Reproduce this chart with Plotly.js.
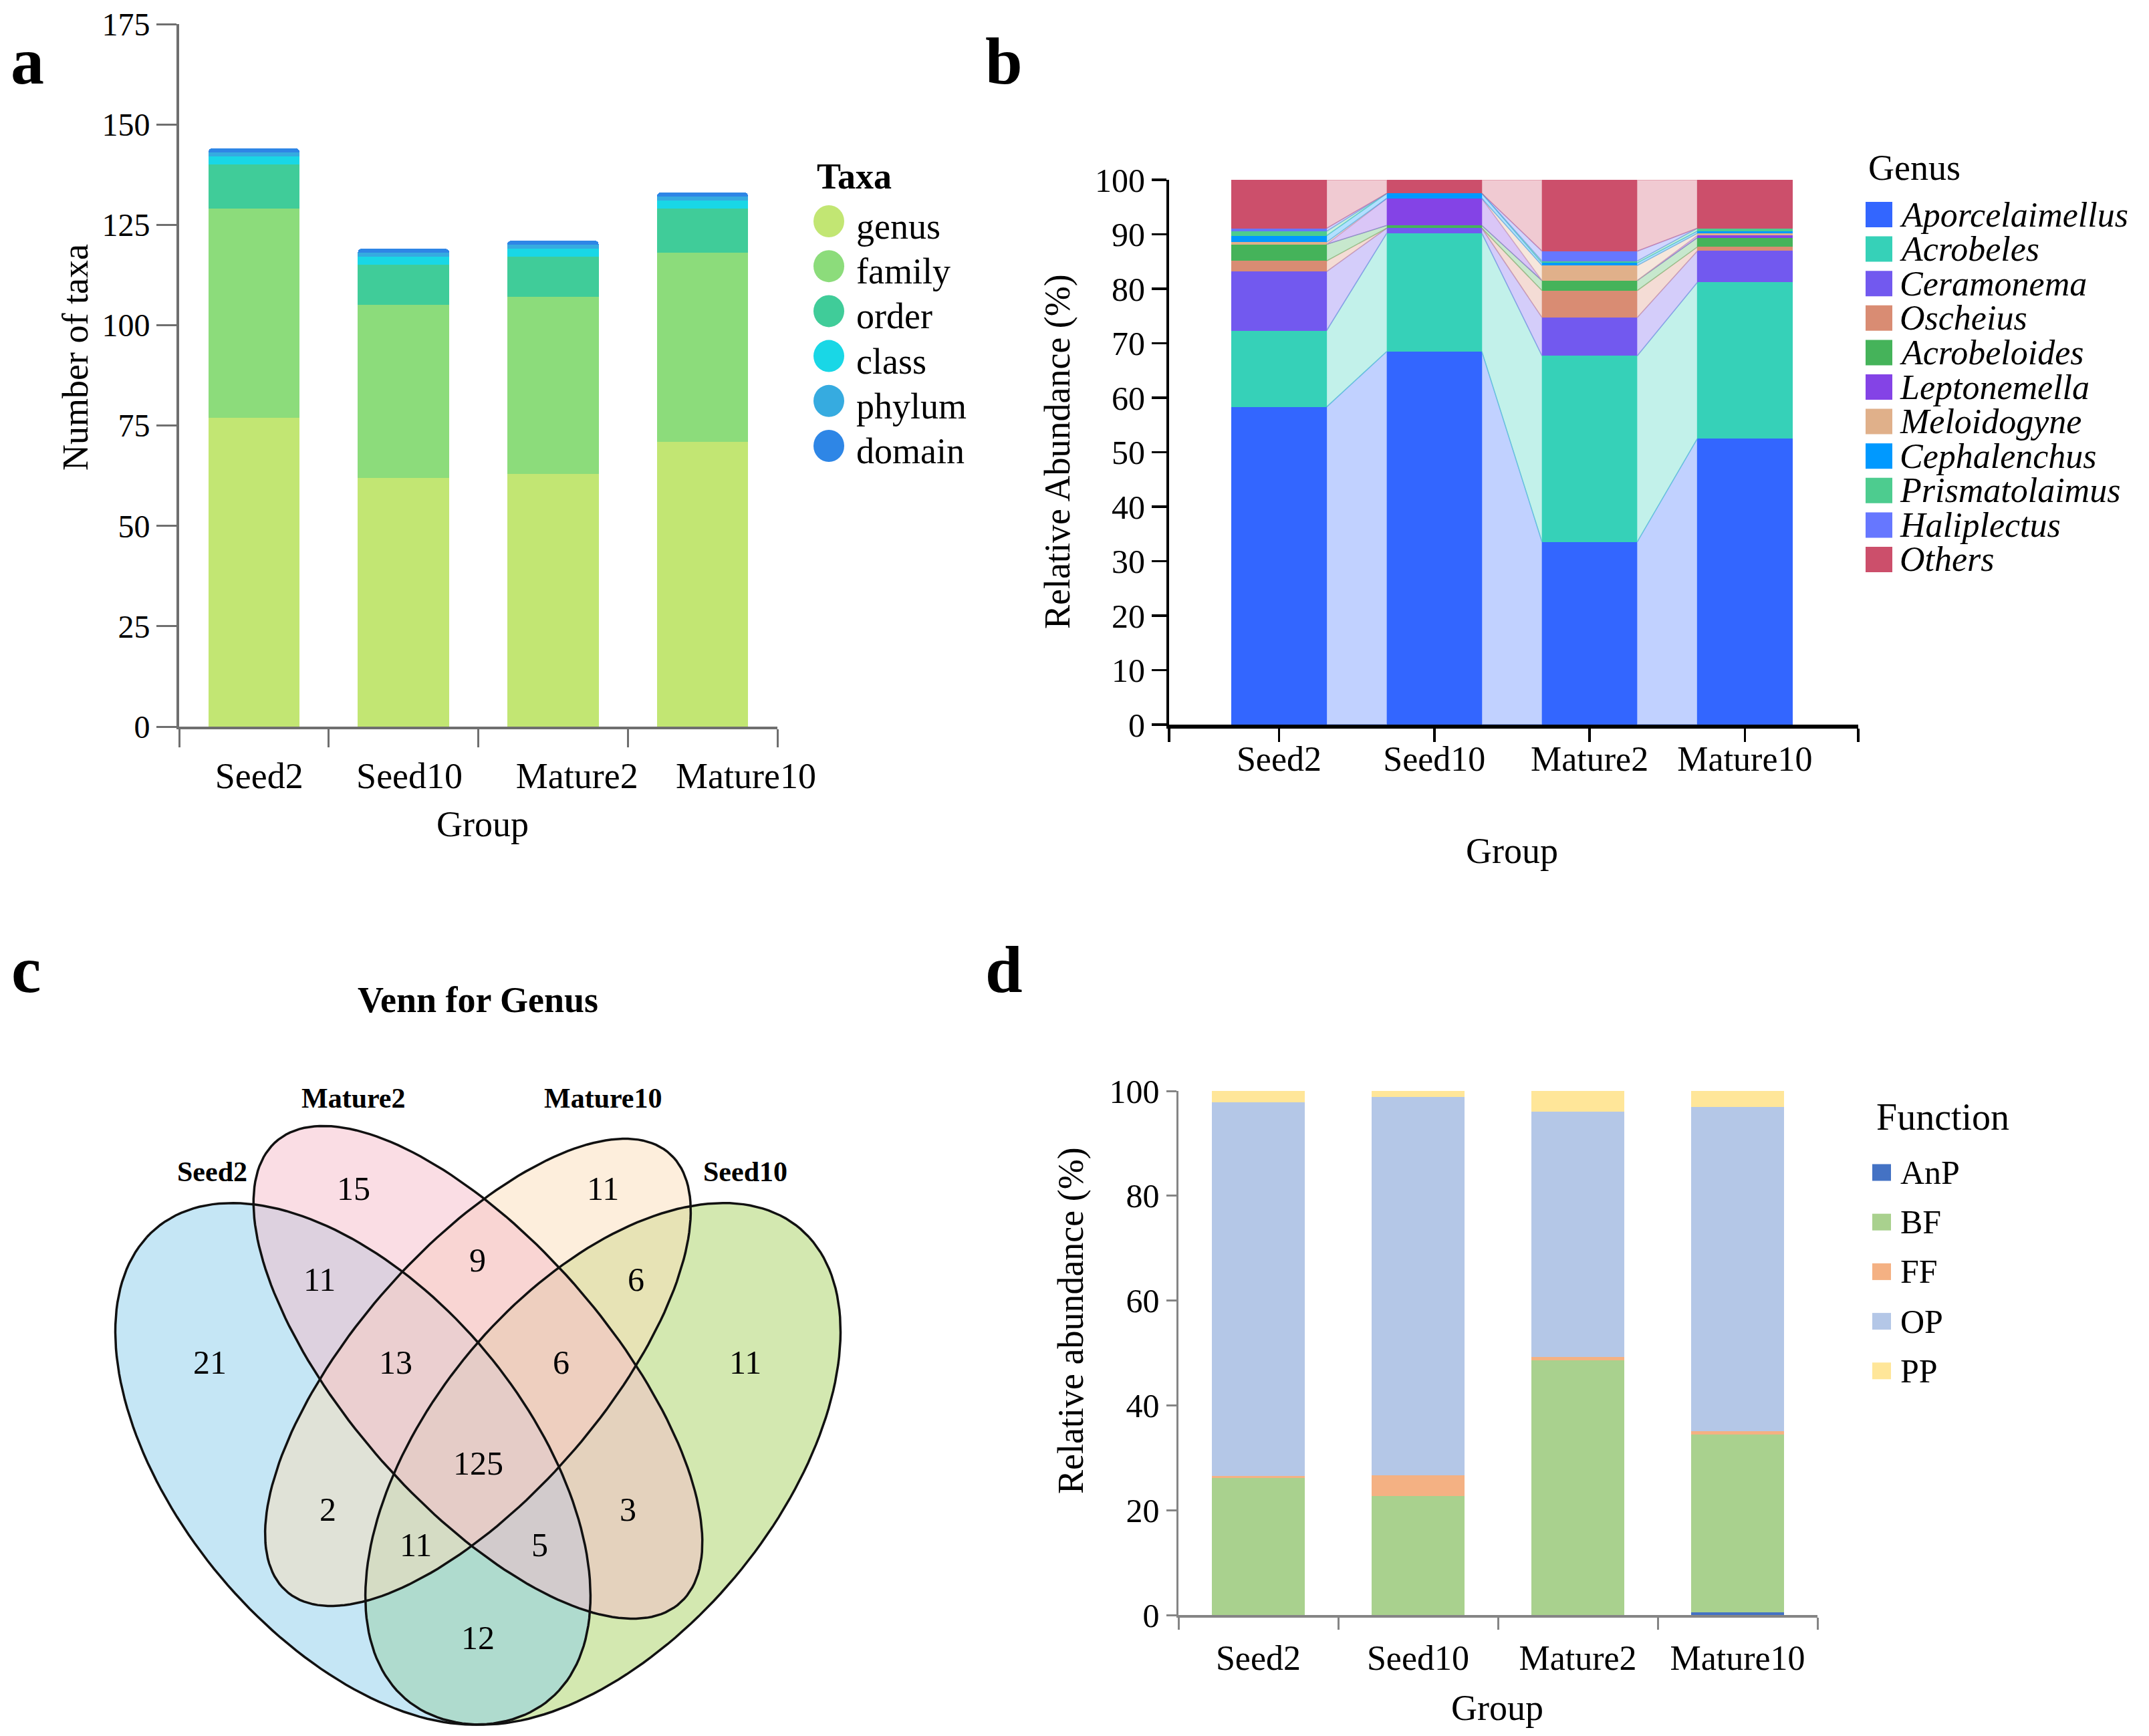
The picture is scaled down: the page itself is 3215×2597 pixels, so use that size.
<!DOCTYPE html>
<html><head><meta charset="utf-8">
<script src="https://cdn.plot.ly/plotly-3.0.1.min.js"></script>
<style>html,body{margin:0;padding:0;background:#fff;} #chart{width:3215px;height:2597px;}</style>
</head><body><div id="chart"></div>
<script>
// ---------------- DATA ----------------
const groups = ['Seed2', 'Seed10', 'Mature2', 'Mature10'];

// Panel a: number of taxa per level
const taxaLevels = ['genus', 'family', 'order', 'class', 'phylum', 'domain'];
const taxaGenus  = [77, 62, 63, 71];
const taxaFamily = [52, 43, 44, 47];
const taxaOrder  = [11, 10, 10, 11];
const taxaClass  = [2, 2, 2, 2];
const taxaPhylum = [1, 1, 1, 1];
const taxaDomain = [1, 1, 1, 1];

// Panel b: relative abundance of genera (%)
const genera = ['Aporcelaimellus', 'Acrobeles', 'Ceramonema', 'Oscheius', 'Acrobeloides',
  'Leptonemella', 'Meloidogyne', 'Cephalenchus', 'Prismatolaimus', 'Haliplectus', 'Others'];
const aporcelaimellus = [58.3, 68.5, 33.5, 52.5];
const acrobeles       = [14.0, 21.7, 34.17, 28.67];
const ceramonema      = [10.85, 0.93, 7.03, 5.77];
const oscheius        = [1.95, 0, 4.96, 0.73];
const acrobeloides    = [3.05, 0.49, 1.83, 1.7];
const leptonemella    = [0, 4.96, 0, 0.4];
const meloidogyne     = [0.4, 0, 2.76, 0.4];
const cephalenchus    = [1.2, 0.93, 0.49, 0.4];
const prismatolaimus  = [0.8, 0, 0.33, 0.53];
const haliplectus     = [0.53, 0, 1.83, 0];
const others          = [8.92, 2.49, 13.1, 8.9];

// Panel c: Venn for genus
const vennSets = ['Seed2', 'Mature2', 'Mature10', 'Seed10'];
const vennRegions = ['Seed2 only', 'Mature2 only', 'Mature10 only', 'Seed10 only',
  'Seed2&Mature2', 'Mature2&Mature10', 'Mature10&Seed10', 'Seed2&Mature2&Mature10',
  'Mature2&Mature10&Seed10', 'All', 'Seed2&Mature10', 'Mature2&Seed10',
  'Seed2&Mature10&Seed10', 'Seed2&Mature2&Seed10', 'Seed2&Seed10'];
const vennCounts = [21, 15, 11, 11, 11, 9, 6, 13, 6, 125, 2, 3, 11, 5, 12];

// Panel d: functional groups (%)
const functions = ['AnP', 'BF', 'FF', 'OP', 'PP'];
const fAnP = [0, 0, 0, 0.5];
const fBF  = [26.2, 22.7, 48.6, 33.9];
const fFF  = [0.3, 4.0, 0.6, 0.7];
const fOP  = [71.3, 72.2, 46.8, 61.9];
const fPP  = [2.2, 1.1, 4.0, 3.0];

// ---------------- STYLE / LAYOUT HELPERS ----------------
const W = 3215, H = 2597;
const SERIF = 'Liberation Serif, Times New Roman, serif';
const px = x => x / W;
const py = y => 1 - y / H;

const taxaValues = [taxaGenus, taxaFamily, taxaOrder, taxaClass, taxaPhylum, taxaDomain];
const taxaColors = ['#c2e673', '#8cdc7b', '#40cc99', '#19d7e6', '#36abe0', '#2e86e6'];
const genusValues = [aporcelaimellus, acrobeles, ceramonema, oscheius, acrobeloides,
  leptonemella, meloidogyne, cephalenchus, prismatolaimus, haliplectus, others];
const genusColors = ['#3366ff', '#36d1b8', '#7259ef', '#d98c73', '#45b35a',
  '#8443e6', '#e0b08a', '#0099ff', '#4dcc8f', '#6677ff', '#cc4f6b'];
const funcValues = [fAnP, fBF, fFF, fOP, fPP];
const funcColors = ['#4472c4', '#a9d18e', '#f4b183', '#b4c7e7', '#ffe699'];

function rgba(hex, a) {
  const n = parseInt(hex.slice(1), 16);
  return `rgba(${(n >> 16) & 255},${(n >> 8) & 255},${n & 255},${a})`;
}

const traces = [];
const shapes = [];
const annotations = [];

function txt(x, y, text, size, opts) {
  annotations.push(Object.assign({
    xref: 'paper', yref: 'paper', x: px(x), y: py(y), text: text, showarrow: false,
    xanchor: 'center', yanchor: 'middle',
    font: {family: SERIF, size: size, color: '#000'}
  }, opts || {}));
}

const idx = [0, 1, 2, 3];

// ---------------- PANEL a ----------------
taxaLevels.forEach((lvl, k) => {
  const m = {color: taxaColors[k], line: {width: 0}};
  if (k === taxaLevels.length - 1) m.cornerradius = 5;
  traces.push({
    type: 'bar', x: idx, y: taxaValues[k], name: lvl, xaxis: 'x', yaxis: 'y',
    width: 0.61, marker: m, showlegend: false
  });
});
// legend a
txt(1220, 264, '<b>Taxa</b>', 54, {xanchor: 'left'});
taxaLevels.forEach((lvl, k) => {
  const cy = 331 + k * 67.2;
  shapes.push({type: 'circle', xref: 'paper', yref: 'paper',
    x0: px(1240 - 23), x1: px(1240 + 23), y0: py(cy + 24), y1: py(cy - 24),
    fillcolor: taxaColors[k], line: {width: 0}});
  txt(1279, cy + 8, lvl, 54, {xanchor: 'left'});
});
txt(113, 535, 'Number of taxa', 54, {textangle: -90});
txt(722, 1233, 'Group', 54);

// ---------------- PANEL b ----------------
const hwB = 0.306;
genera.forEach((g, k) => {
  traces.push({
    type: 'bar', x: idx, y: genusValues[k], name: g, xaxis: 'x2', yaxis: 'y2',
    width: 2 * hwB, marker: {color: genusColors[k], line: {width: 0}}, showlegend: false
  });
});
// links between adjacent bars, from cumulative sums of the data
const cumTop = genusValues.map(() => [0, 0, 0, 0]);
const cumBot = genusValues.map(() => [0, 0, 0, 0]);
for (let i = 0; i < 4; i++) {
  let s = 0;
  genusValues.forEach((vals, k) => { cumBot[k][i] = s; s += vals[i]; cumTop[k][i] = s; });
}
genera.forEach((g, k) => {
  const lx = [], ly = [];
  for (let i = 0; i < 3; i++) {
    lx.push(i + hwB, i + hwB, i + 1 - hwB, i + 1 - hwB, i + hwB, null);
    ly.push(cumBot[k][i], cumTop[k][i], cumTop[k][i + 1], cumBot[k][i + 1], cumBot[k][i], null);
  }
  traces.push({
    type: 'scatter', mode: 'lines', x: lx, y: ly, xaxis: 'x2', yaxis: 'y2',
    fill: 'toself', fillcolor: rgba(genusColors[k], 0.3),
    line: {color: rgba(genusColors[k], 0.4), width: 1.5}, showlegend: false, hoverinfo: 'skip'
  });
});
// legend b
txt(2793, 251, 'Genus', 54, {xanchor: 'left'});
genera.forEach((g, k) => {
  const cy = 321 + k * 51.6;
  shapes.push({type: 'rect', xref: 'paper', yref: 'paper',
    x0: px(2791), x1: px(2831), y0: py(cy + 19), y1: py(cy - 19),
    fillcolor: genusColors[k], line: {width: 0}});
  txt(2840, cy, '<i>' + g + '</i>', 52, {xanchor: 'left'});
});
txt(1582, 676, 'Relative Abundance (%)', 54, {textangle: -90});
txt(2262, 1273, 'Group', 54);

// ---------------- PANEL c (Venn) ----------------
// ellipse geometry (layout): centre/axes in unit square, mapped to pixels
const vennGeom = [
  {cu: 0.35, cv: 0.47, a: 0.35, b: 0.20, rot: 135, color: '#8bcdeb'},   // Seed2
  {cu: 0.50, cv: 0.57, a: 0.35, b: 0.15, rot: 135, color: '#f5bbc9'},   // Mature2
  {cu: 0.50, cv: 0.57, a: 0.332, b: 0.142, rot: 45, color: '#fbddb9'},  // Mature10
  {cu: 0.65, cv: 0.47, a: 0.35, b: 0.20, rot: 45, color: '#a7d161'}     // Seed10
];
const toX = u => 715 + (u - 0.5) * 1247;
const toY = v => 2053 - (v - 0.57) * 1369;
function ellipse(g) {
  const xs = [], ys = [];
  const th = g.rot * Math.PI / 180;
  for (let d = 0; d <= 360; d += 2) {
    const t = d * Math.PI / 180;
    const u = g.cu + g.a * Math.cos(t) * Math.cos(th) - g.b * Math.sin(t) * Math.sin(th);
    const v = g.cv + g.a * Math.cos(t) * Math.sin(th) + g.b * Math.sin(t) * Math.cos(th);
    xs.push(toX(u)); ys.push(toY(v));
  }
  return {xs, ys};
}
const drawOrder = [3, 0, 2, 1]; // Seed10, Seed2, Mature10, Mature2
drawOrder.forEach(i => {
  const e = ellipse(vennGeom[i]);
  traces.push({type: 'scatter', mode: 'lines', x: e.xs, y: e.ys, xaxis: 'x4', yaxis: 'y4',
    fill: 'toself', fillcolor: rgba(vennGeom[i].color, 0.5), line: {width: 0},
    name: vennSets[i], showlegend: false, hoverinfo: 'skip'});
});
drawOrder.forEach(i => {
  const e = ellipse(vennGeom[i]);
  traces.push({type: 'scatter', mode: 'lines', x: e.xs, y: e.ys, xaxis: 'x4', yaxis: 'y4',
    line: {color: '#111', width: 3.5}, showlegend: false, hoverinfo: 'skip'});
});
const vennLabelPos = [[314, 2038], [529, 1778], [902, 1778], [1115, 2038], [478, 1914],
  [714, 1885], [951, 1914], [592, 2038], [839, 2038], [715, 2189], [490, 2258],
  [939, 2258], [622, 2311], [808, 2311], [715, 2450]];
vennCounts.forEach((c, i) => txt(vennLabelPos[i][0], vennLabelPos[i][1], String(c), 50));
const vennSetPos = [[317, 1753], [529, 1643], [902, 1643], [1115, 1753]];
vennSets.forEach((s, i) => txt(vennSetPos[i][0], vennSetPos[i][1], '<b>' + s + '</b>', 42));
txt(715, 1496, '<b>Venn for Genus</b>', 54);

// ---------------- PANEL d ----------------
functions.forEach((f, k) => {
  traces.push({
    type: 'bar', x: groups, y: funcValues[k], name: f, xaxis: 'x3', yaxis: 'y3',
    width: 0.585, marker: {color: funcColors[k], line: {width: 0}}, showlegend: false
  });
});
txt(2805, 1671, 'Function', 56, {xanchor: 'left'});
functions.forEach((f, k) => {
  const cy = 1754 + k * 74.2;
  shapes.push({type: 'rect', xref: 'paper', yref: 'paper',
    x0: px(2801), x1: px(2829), y0: py(cy + 12.5), y1: py(cy - 12.5),
    fillcolor: funcColors[k], line: {width: 0}});
  txt(2841, cy, f, 50, {xanchor: 'left'});
});
txt(1602, 1976, 'Relative abundance (%)', 54, {textangle: -90});
txt(2240, 2555, 'Group', 54);

// panel letters
txt(41, 92, '<b>a</b>', 100);
txt(1502, 92, '<b>b</b>', 100);
txt(39, 1450, '<b>c</b>', 100);
txt(1502, 1450, '<b>d</b>', 100);

// ---------------- AXES ----------------
const tickFont = s => ({family: SERIF, size: s, color: '#000'});
const grayA = '#6f6f6f', grayD = '#858585';
// tick label positions of panel a (as placed in the original figure)
const aLabelPos = [0.035, 1.04, 2.16, 3.29];
const layout = {
  width: W, height: H, margin: {l: 0, r: 0, t: 0, b: 0}, paper_bgcolor: '#fff', plot_bgcolor: 'rgba(0,0,0,0)',
  barmode: 'stack', showlegend: false, font: {family: SERIF, color: '#000'},
  xaxis: {domain: [px(268), px(1163)], anchor: 'y', range: [-0.5, 3.5],
    tickmode: 'array', tickvals: aLabelPos, ticktext: groups, ticks: '',
    minor: {tickmode: 'array', tickvals: [-0.5, 0.5, 1.5, 2.5, 3.5], ticks: 'outside',
      ticklen: 27, tickwidth: 3, tickcolor: grayA, showgrid: false},
    showline: true, linecolor: grayA, linewidth: 4, showgrid: false, zeroline: false,
    tickfont: tickFont(54), ticklabelstandoff: 23, fixedrange: true},
  yaxis: {domain: [py(1087), py(36)], anchor: 'x', range: [0, 175], dtick: 25, tick0: 0,
    ticks: 'outside', ticklen: 30, tickwidth: 3, tickcolor: grayA,
    showline: true, linecolor: grayA, linewidth: 4, showgrid: false, zeroline: false,
    tickfont: tickFont(48), fixedrange: true},
  xaxis2: {domain: [px(1749), px(2780)], anchor: 'y2', range: [-0.708, 3.73],
    tickmode: 'array', tickvals: [-0.708, 0, 1, 2, 3, 3.73], ticktext: ['', ...groups, ''],
    ticks: 'outside', ticklen: 20, tickwidth: 3.5, tickcolor: '#000',
    showline: true, linecolor: '#000', linewidth: 6, showgrid: false, zeroline: false,
    tickfont: tickFont(52), ticklabelstandoff: -19, fixedrange: true},
  yaxis2: {domain: [py(1084), py(269)], anchor: 'x2', range: [0, 100], dtick: 10, tick0: 0,
    ticks: 'outside', ticklen: 22, tickwidth: 3.5, tickcolor: '#000',
    showline: true, linecolor: '#000', linewidth: 4, showgrid: false, zeroline: false,
    tickfont: tickFont(50), fixedrange: true},
  xaxis3: {domain: [px(1763), px(2719)], anchor: 'y3', type: 'category', range: [-0.5, 3.5],
    tickson: 'boundaries', ticks: 'outside', ticklen: 18, tickwidth: 3, tickcolor: grayD,
    showline: true, linecolor: grayD, linewidth: 3.5, showgrid: false, zeroline: false,
    tickfont: tickFont(52), ticklabelstandoff: 16, fixedrange: true},
  yaxis3: {domain: [py(2416), py(1632)], anchor: 'x3', range: [0, 100], dtick: 20, tick0: 0,
    ticks: 'outside', ticklen: 15, tickwidth: 3, tickcolor: grayD,
    showline: true, linecolor: grayD, linewidth: 3.5, showgrid: false, zeroline: false,
    tickfont: tickFont(50), fixedrange: true},
  xaxis4: {domain: [0, px(1450)], anchor: 'y4', range: [0, 1450], visible: false, fixedrange: true},
  yaxis4: {domain: [0, py(1300)], anchor: 'x4', range: [2597, 1300], visible: false, fixedrange: true},
  shapes: shapes,
  annotations: annotations
};

Plotly.newPlot('chart', traces, layout, {staticPlot: true, displayModeBar: false});
</script>
</body></html>
